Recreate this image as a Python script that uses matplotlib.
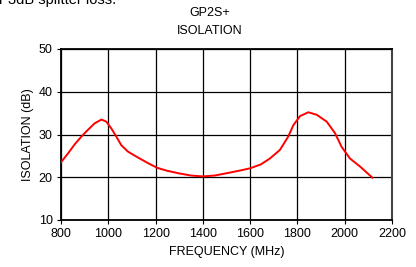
import matplotlib.pyplot as plt

plt.rcParams['font.family'] = ['Liberation Sans', 'DejaVu Sans']

freq = [800, 830, 858, 886, 914, 942, 971, 992, 1013, 1034, 1055, 1083, 1126,
        1168, 1207, 1250, 1300, 1350, 1400, 1450, 1515, 1560, 1600, 1645, 1684,
        1726, 1761, 1783, 1811, 1846, 1882, 1924, 1959, 1987, 2022, 2065, 2117]
isolation = [23.5, 25.6, 27.7, 29.5, 31.1, 32.6, 33.5, 33.0, 31.4, 29.5, 27.5, 26.0,
             24.6, 23.3, 22.2, 21.5, 20.9, 20.4, 20.2, 20.4, 21.1, 21.6, 22.1, 23.0,
             24.4, 26.4, 29.5, 32.2, 34.3, 35.2, 34.6, 33.0, 30.3, 27.1, 24.4, 22.5,
             19.9]
xticks = [800, 1000, 1200, 1400, 1600, 1800, 2000, 2200]
yticks = [10, 20, 30, 40, 50]

fig = plt.figure(figsize=(4.16, 2.67), dpi=100)
ax = fig.add_axes([61/416, 1-220/267, 331/416, 171/267])

ax.plot(freq, isolation, color='red', lw=1.4, zorder=3)
ax.set_xlim(800, 2200)
ax.set_ylim(10, 50)
ax.set_xticks(xticks)
ax.set_yticks(yticks)
ax.grid(True, color='black', lw=0.9)
ax.tick_params(labelsize=9, length=3, width=0.8, pad=3)
for side in ['left', 'bottom', 'top']:
    ax.spines[side].set_linewidth(1.3)
ax.spines['right'].set_linewidth(1.5)
ax.spines['right'].set_color('#444444')

ax.set_xlabel('FREQUENCY (MHz)', fontsize=9, labelpad=4)
ax.set_ylabel('ISOLATION (dB)', fontsize=9, labelpad=3)

fig.text(210/416, 1-13.5/267, 'GP2S+', ha='center', va='center', fontsize=9)
fig.text(210/416, 1-31/267, 'ISOLATION', ha='center', va='center', fontsize=9)
fig.text(-1/416, 1-4/267, 'r 3dB splitter loss.', ha='left', va='baseline', fontsize=10.5)

fig.savefig('out.png', dpi=100)
